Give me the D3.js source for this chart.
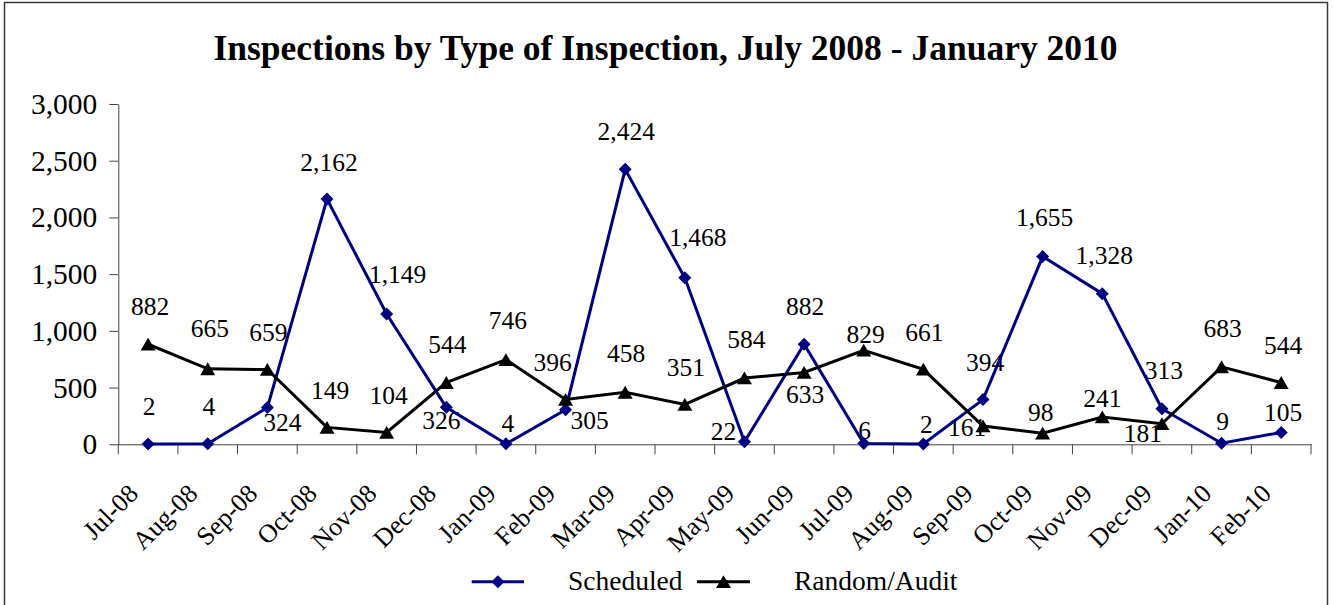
<!DOCTYPE html>
<html>
<head>
<meta charset="utf-8">
<script src="https://cdn.jsdelivr.net/npm/d3@7"></script>
<style>
  html, body { margin: 0; padding: 0; background: #fff; }
  svg { display: block; }
</style>
</head>
<body>
<svg id="chart" width="1333" height="605" style="font-family: 'Liberation Serif', 'Times New Roman', 'DejaVu Serif', serif;"></svg>
<script>
// ---- data ----
const categories = ["Jul-08","Aug-08","Sep-08","Oct-08","Nov-08","Dec-08","Jan-09","Feb-09","Mar-09","Apr-09",
                    "May-09","Jun-09","Jul-09","Aug-09","Sep-09","Oct-09","Nov-09","Dec-09","Jan-10","Feb-10"];
const scheduled = [2, 4, 324, 2162, 1149, 326, 4, 305, 2424, 1468, 22, 882, 6, 2, 394, 1655, 1328, 313, 9, 105];
const randomAudit = [882, 665, 659, 149, 104, 544, 746, 396, 458, 351, 584, 633, 829, 661, 161, 98, 241, 181, 683, 544];
const yTicks = [0, 500, 1000, 1500, 2000, 2500, 3000];
const seriesNames = ["Scheduled", "Random/Audit"];
const titleText = "Inspections by Type of Inspection, July 2008 - January 2010";

// ---- label placement nudges (layout, [dx, dy] from the point) ----
const schedLabelShift = [[1,-38],[1,-37],[15,15],[2,-37],[11,-39],[-5,13],[2,-20],[24,11],[1,-38],[13,-40],
                         [-21,-10],[1,-38],[1,-13],[3,-20],[2,-37],[2,-39],[2,-38],[2,-38],[1,-22],[2,-20]];
const randLabelShift  = [[2,-38],[2,-40],[1,-37],[3,-37],[2,-37],[1,-38],[2,-39],[-13,-37],[1,-39],[1,-37],
                         [2,-39],[1,22],[2,-16],[1,-37],[-16,1],[-2,-21],[0,-18],[-19,10],[1,-38],[2,-37]];

const FONT = "'Liberation Serif', 'Times New Roman', 'DejaVu Serif', serif";
const svg = d3.select("#chart");
const fmt = d3.format(",");

// outer border
svg.append("rect").attr("x", 4.5).attr("y", 2.5).attr("width", 1323).attr("height", 640)
  .attr("fill", "none").attr("stroke", "#3a3a3a").attr("stroke-width", 1.5);

// title
svg.append("text").attr("x", 665.5).attr("y", 60).attr("text-anchor", "middle")
  .style("font-family", FONT).style("font-size", "35.5px").style("font-weight", "bold").text(titleText);

const plot = { left: 118.3, right: 1311, top: 104, bottom: 444.3 };
const x = d3.scaleBand().domain(categories).range([plot.left, plot.right]);
const y = d3.scaleLinear().domain([0, 3000]).range([plot.bottom, plot.top]);
const cx = c => x(c) + x.bandwidth() / 2;

// y axis
const yAxis = svg.append("g").attr("transform", `translate(${plot.left},0)`)
  .call(d3.axisLeft(y).tickValues(yTicks).tickFormat(fmt).tickSize(9).tickSizeOuter(0).tickPadding(12));
yAxis.attr("font-family", null).attr("font-size", null);
yAxis.selectAll("path, line").attr("stroke", "#444").attr("stroke-width", 1);
yAxis.selectAll("text").style("font-family", FONT).style("font-size", "29.5px").attr("fill", "#000");

// x axis
const xAxis = svg.append("g").attr("transform", `translate(0,${plot.bottom})`)
  .call(d3.axisBottom(x).tickSize(0).tickSizeOuter(0).tickFormat(""));
xAxis.select("path").attr("stroke", "#444");
xAxis.selectAll(".tick").remove();
const bounds = categories.map(c => x(c)).concat([plot.right]);
xAxis.selectAll("line.bound").data(bounds).enter().append("line").attr("class", "bound")
  .attr("x1", d => d).attr("x2", d => d).attr("y1", 0).attr("y2", 10).attr("stroke", "#444");
svg.append("g").selectAll("text").data(categories).enter().append("text")
  .attr("transform", d => `translate(${cx(d) - 8.5},495) rotate(-45)`)
  .attr("text-anchor", "end").style("font-family", FONT).style("font-size", "26px").text(d => d);

// data labels (drawn below lines)
const labelG = svg.append("g");
function drawLabels(values, shifts) {
  labelG.selectAll(null).data(values).enter().append("text")
    .attr("x", (d, i) => cx(categories[i]) + shifts[i][0])
    .attr("y", (d, i) => y(d) + shifts[i][1])
    .attr("text-anchor", "middle").attr("dominant-baseline", "central")
    .style("font-family", FONT).style("font-size", "25.5px").text(d => fmt(d));
}
drawLabels(scheduled, schedLabelShift);
drawLabels(randomAudit, randLabelShift);

const diamond = "M0,-6.5L6.5,0L0,6.5L-6.5,0Z";
const triangle = "M0,-6.5L7.5,6.3L-7.5,6.3Z";
const colors = ["#000080", "#000000"];
const shapes = [diamond, triangle];
const line = d3.line().x((d, i) => cx(categories[i])).y(d => y(d));

[scheduled, randomAudit].forEach((vals, s) => {
  svg.append("path").datum(vals).attr("d", line).attr("fill", "none")
    .attr("stroke", colors[s]).attr("stroke-width", 3).attr("stroke-linejoin", "miter");
  svg.append("g").selectAll("path").data(vals).enter().append("path")
    .attr("d", shapes[s]).attr("fill", colors[s])
    .attr("transform", (d, i) => `translate(${cx(categories[i])},${y(d)})`);
});

// legend
const legend = [
  { x1: 471.7, x2: 524, tx: 568 },
  { x1: 697, x2: 750, tx: 794 }
];
legend.forEach((l, s) => {
  svg.append("line").attr("x1", l.x1).attr("x2", l.x2).attr("y1", 581.7).attr("y2", 581.7)
    .attr("stroke", colors[s]).attr("stroke-width", 3);
  svg.append("path").attr("d", shapes[s]).attr("fill", colors[s])
    .attr("transform", `translate(${(l.x1 + l.x2) / 2},581.7)`);
  svg.append("text").attr("x", l.tx).attr("y", 590)
    .style("font-family", FONT).style("font-size", "27.5px").text(seriesNames[s]);
});
</script>
</body>
</html>
